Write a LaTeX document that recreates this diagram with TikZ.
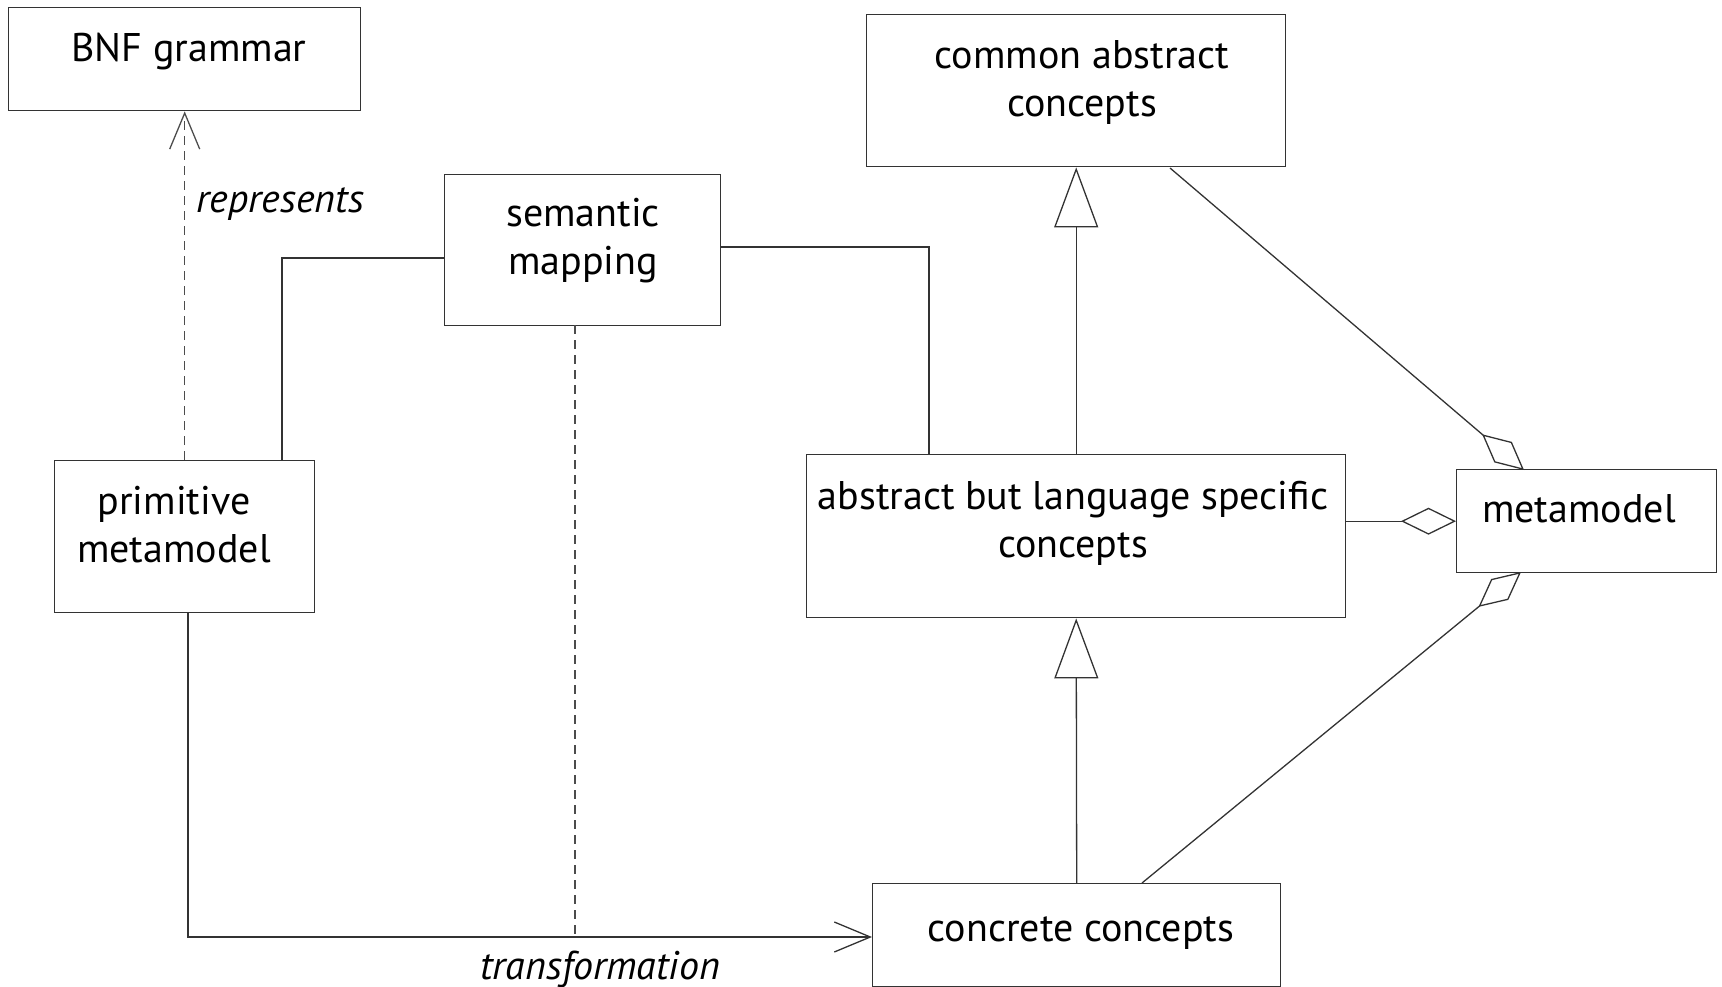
\documentclass[tikz,border=0pt]{standalone}
\usepackage{fontspec}
\setmainfont{PT Sans}
\usetikzlibrary{arrows.meta}
\begin{document}
\begin{tikzpicture}[x=1pt,y=-1pt,
  line width=1.3pt,
  box/.style={draw=black!80, line width=1.4pt, rectangle, anchor=north west, inner sep=0pt},
  lbl/.style={font=\fontsize{40}{48}\selectfont, align=center, inner sep=0pt},
  elbl/.style={font=\fontsize{40}{48}\selectfont\itshape, inner sep=0pt},
  link/.style={draw=black!80, line width=1.3pt},
  dep/.style={draw=black!70, line width=1.3pt, dash pattern=on 9pt off 6pt},
  openhead/.style={-{Straight Barb[length=36pt, width=30pt, line width=1.3pt]}},
  genhead/.style={-{Triangle[open, length=60pt, width=44pt, line width=1.3pt]}},
  agghead/.style={-{Diamond[open, length=55pt, width=27pt, line width=1.3pt]}}
]
\useasboundingbox (0,0) rectangle (1722,987);

% boxes
\node[box, minimum width=352pt, minimum height=103pt] (bnf) at (8,7) {};
\node[box, minimum width=419pt, minimum height=152pt] (common) at (866,14) {};
\node[box, minimum width=276pt, minimum height=151pt] (sem) at (444,174) {};
\node[box, minimum width=260pt, minimum height=152pt] (prim) at (54,460) {};
\node[box, minimum width=539pt, minimum height=163pt] (abs) at (806,454) {};
\node[box, minimum width=260pt, minimum height=103pt] (meta) at (1456,469) {};
\node[box, minimum width=408pt, minimum height=103pt] (conc) at (872,883) {};

% box texts (base anchor sits on the last line)
\node[lbl, anchor=base] (tbnf) at (189,62) {BNF grammar};
\node[lbl, anchor=base] (tcommon) at (1082,117) {common abstract\\concepts};
\node[lbl, anchor=base] (tsem) at (583,275) {semantic\\mapping};
\node[lbl, anchor=base] (tprim) at (174,562) {primitive\\metamodel};
\node[lbl, anchor=base] (tabs) at (1073,557) {abstract but language specific\\concepts};
\node[lbl, anchor=base] (tmeta) at (1579,522) {metamodel};
\node[lbl, anchor=base] (tconc) at (1081,941) {concrete concepts};

% bend points
\coordinate (semL) at (444,258);
\coordinate (primT) at (282,460);
\coordinate (semR) at (720,247);
\coordinate (absT) at (929,454);
\coordinate (semB) at (575,325);
\coordinate (trB) at (575,937);
\coordinate (primB) at (188,612);
\coordinate (concW) at (872,937);
\coordinate (commonB) at (1170,168);
\coordinate (metaT) at (1524,470);
\coordinate (concT) at (1142,883);
\coordinate (metaB) at (1521,572);

% connectors
\draw[dep, openhead] (prim.north) -- (bnf.south);
\node[elbl, anchor=base west] (lrep) at (196,213) {represents};
\draw[link] (semL) -| (primT);
\draw[link] (semR) -| (absT);
\draw[dep] (semB) -- (trB);
\draw[link, openhead] (primB) |- (concW);
\node[elbl, anchor=base] (ltr) at (600,979) {transformation};
\draw[link, genhead] (abs.north) -- (common.south);
\draw[link, genhead] (conc.north) -- (abs.south);
\draw[link, agghead] (commonB) -- (metaT);
\draw[link, agghead] (meta.west -| abs.east) -- (meta.west);
\draw[link, agghead] (concT) -- (metaB);
\end{tikzpicture}
\end{document}
